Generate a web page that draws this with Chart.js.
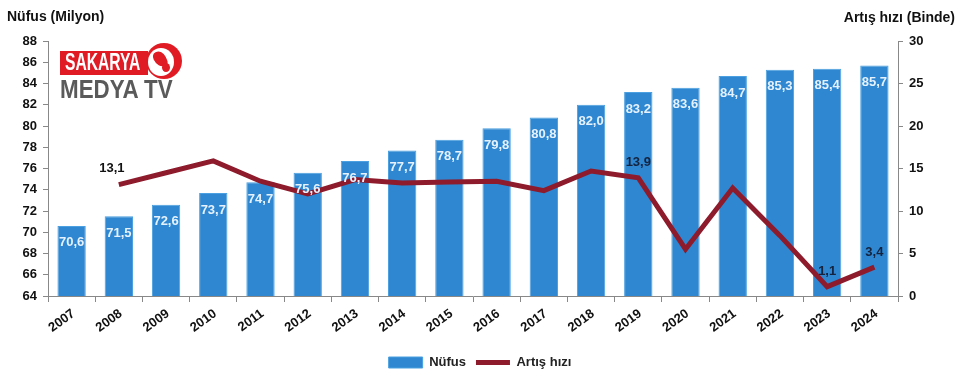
<!DOCTYPE html>
<html>
<head>
<meta charset="utf-8">
<script src="https://cdn.jsdelivr.net/npm/chart.js@4/dist/chart.umd.min.js"></script>
<style>
  html,body{margin:0;padding:0;background:#fff;}
  #wrap{position:relative;width:960px;height:379px;}
  #c{position:absolute;left:0;top:0;}
  .logo{position:absolute;left:0;top:0;pointer-events:none;}
  .sak{position:absolute;left:60px;top:51px;width:88px;height:24px;background:#e01b24;}
  .sak span{position:absolute;left:5px;top:-2px;color:#fff;font:bold 23px "Liberation Sans",Arial,sans-serif;transform:scaleX(0.68);transform-origin:0 0;white-space:nowrap;line-height:27px;}
  .med{position:absolute;left:60px;top:75px;color:#5a5a5a;font:bold 26px "Liberation Sans",Arial,sans-serif;transform:scaleX(0.86);transform-origin:0 0;white-space:nowrap;line-height:28px;}
  .globe{position:absolute;left:146px;top:43px;width:36px;height:36px;border-radius:50%;background:#e01b24;overflow:hidden;}
  .globe .a{position:absolute;left:2px;top:5px;width:26px;height:28px;border-radius:50%;background:#fff;}
  .globe .b{position:absolute;left:8px;top:8px;width:12px;height:16px;background:#e01b24;border-radius:40% 60% 30% 70%;transform:rotate(-25deg);}
  .globe .d{position:absolute;left:16px;top:20px;width:8px;height:9px;background:#e01b24;border-radius:50%;}
</style>
</head>
<body>
<div id="wrap">
<canvas id="c" width="960" height="379"></canvas>
<div class="logo">
  <div class="sak"><span>SAKARYA</span></div>
  <div class="globe"><div class="a"></div><div class="b"></div><div class="d"></div></div>
  <div class="med">MEDYA TV</div>
</div>
</div>
<script>
const years = ['2007','2008','2009','2010','2011','2012','2013','2014','2015','2016','2017','2018','2019','2020','2021','2022','2023','2024'];
const nufus = [70.6,71.5,72.6,73.7,74.7,75.6,76.7,77.7,78.7,79.8,80.8,82.0,83.2,83.6,84.7,85.3,85.4,85.7];
const artisHizi = [null,13.1,14.5,15.9,13.5,12.0,13.7,13.3,13.4,13.5,12.4,14.7,13.9,5.5,12.7,7.1,1.1,3.4];
const labeledLinePoints = ['2008','2019','2023','2024'];
const leftTitle = 'Nüfus (Milyon)';
const rightTitle = 'Artış hızı (Binde)';

const FONT = '"Liberation Sans", Arial, sans-serif';
const BLUE = '#2e87d0';
const RED = '#8e1b2b';

function fmt(v){ return v.toFixed(1).replace('.', ','); }

const labelPlugin = {
  id: 'labels',
  afterDatasetsDraw(chart){
    const ctx = chart.ctx;
    ctx.save();
    ctx.textAlign = 'center';
    ctx.textBaseline = 'middle';
    ctx.font = 'bold 13px ' + FONT;
    const bm = chart.getDatasetMeta(0);
    bm.data.forEach((el, i) => {
      ctx.fillStyle = '#e6f2ff';
      ctx.fillText(fmt(nufus[i]), el.x, el.y + 17);
    });
    const lm = chart.getDatasetMeta(1);
    lm.data.forEach((el, i) => {
      if (artisHizi[i] == null) return;
      if (!labeledLinePoints.includes(years[i])) return;
      let dx = 0, dy = -15;
      ctx.fillStyle = '#15233f';
      if (years[i] === '2008') { dx = -7; dy = -16; ctx.fillStyle = '#111'; }
      ctx.fillText(fmt(artisHizi[i]), el.x + dx, el.y + dy);
    });
    ctx.restore();
  },
  afterDraw(chart){
    const ctx = chart.ctx;
    ctx.save();
    ctx.font = 'bold 14px ' + FONT;
    ctx.fillStyle = '#111';
    ctx.textBaseline = 'middle';
    ctx.textAlign = 'left';
    ctx.fillText(leftTitle, 7, 17);
    ctx.textAlign = 'right';
    ctx.fillText(rightTitle, 955, 18);
    ctx.restore();
  }
};

new Chart(document.getElementById('c'), {
  data: {
    labels: years,
    datasets: [
      {
        type: 'bar',
        label: 'Nüfus',
        data: nufus,
        backgroundColor: BLUE,
        borderColor: '#4aa0e0',
        borderWidth: 1,
        barPercentage: 0.6,
        categoryPercentage: 1.0,
        yAxisID: 'y',
        order: 2,
        pointStyle: 'rect'
      },
      {
        type: 'line',
        label: 'Artış hızı',
        data: artisHizi,
        borderColor: RED,
        backgroundColor: RED,
        borderWidth: 5,
        pointRadius: 0,
        tension: 0,
        yAxisID: 'y1',
        order: 1,
        pointStyle: 'line'
      }
    ]
  },
  options: {
    responsive: false,
    animation: false,
    layout: { padding: { top: 41, left: 0, right: 0, bottom: 0 } },
    plugins: {
      legend: {
        position: 'bottom',
        labels: {
          usePointStyle: true,
          pointStyleWidth: 34,
          boxHeight: 11,
          padding: 10,
          color: '#222',
          font: { family: FONT, size: 13, weight: 'bold' },
          sort: (a, b) => a.datasetIndex - b.datasetIndex
        }
      },
      tooltip: { enabled: false }
    },
    scales: {
      x: {
        grid: { display: true, drawOnChartArea: false, offset: true, color: '#888', tickLength: 6 },
        border: { color: '#888' },
        ticks: { color: '#111', font: { family: FONT, size: 13, weight: 'bold' }, minRotation: 36, maxRotation: 36, padding: 4, labelOffset: 2 },
        afterFit(s){ s.height = 50; }
      },
      y: {
        position: 'left',
        min: 64, max: 88,
        ticks: { stepSize: 2, color: '#111', font: { family: FONT, size: 13, weight: 'bold' }, padding: 6 },
        grid: { drawOnChartArea: false, color: '#888', tickLength: 5 },
        border: { color: '#888' },
        afterFit(s){ s.width = 48; }
      },
      y1: {
        position: 'right',
        min: 0, max: 30,
        ticks: { stepSize: 5, color: '#111', font: { family: FONT, size: 13, weight: 'bold' }, padding: 6 },
        grid: { drawOnChartArea: false, color: '#888', tickLength: 5 },
        border: { color: '#888' },
        afterFit(s){ s.width = 62; }
      }
    }
  },
  plugins: [labelPlugin]
});
</script>
</body>
</html>
